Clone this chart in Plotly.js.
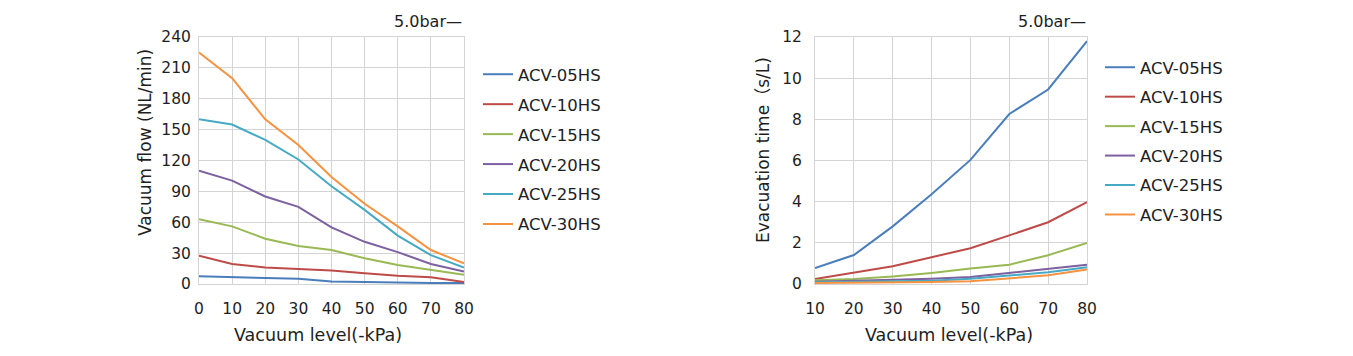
<!DOCTYPE html>
<html>
<head>
<meta charset="utf-8">
<script src="https://cdn.plot.ly/plotly-3.0.1.min.js"></script>
<style>
html,body{margin:0;padding:0;background:#fff;}
#chart{width:1353px;height:356px;}
</style>
</head>
<body>
<div id="chart"></div>
<script>
// ---- data ----
const models = ["ACV-05HS","ACV-10HS","ACV-15HS","ACV-20HS","ACV-25HS","ACV-30HS"];
const colors = ["#4A7EBB","#BE4B48","#98B954","#7D60A0","#46AAC5","#F69240"];

const flowVacuum = [0,10,20,30,40,50,60,70,80];
const flow05 = [7.5, 6.5, 6, 5, 2.5, 2, 1, 1, 1];
const flow10 = [27.5, 19.5, 16, 14.5, 13, 10.5, 8, 6.5, 2];
const flow15 = [63, 56, 44, 37, 33, 25, 18.5, 14, 9];
const flow20 = [110, 100.5, 85, 75, 55, 41, 31, 19.5, 12];
const flow25 = [160, 155, 140, 121, 95, 72, 47, 28, 16];
const flow30 = [225, 200, 160, 135, 104, 78, 56, 33, 20];

const timeVacuum = [10,20,30,40,50,60,70,80];
const time05 = [0.78, 1.41, 2.8, 4.36, 6.03, 8.26, 9.45, 11.8];
const time10 = [0.24, 0.56, 0.86, 1.3, 1.74, 2.36, 3.0, 3.98];
const time15 = [0.18, 0.24, 0.37, 0.54, 0.75, 0.94, 1.4, 2.0];
const time20 = [0.11, 0.16, 0.18, 0.26, 0.34, 0.54, 0.75, 0.94];
const time25 = [0.08, 0.11, 0.13, 0.16, 0.26, 0.4, 0.57, 0.81];
const time30 = [0.05, 0.06, 0.06, 0.1, 0.13, 0.29, 0.42, 0.7];

const flowTickVals = [0,30,60,90,120,150,180,210,240];
const timeTickVals = [0,2,4,6,8,10,12];

// ---- build ----
const FONT = "DejaVu Sans, Noto Sans CJK SC, sans-serif";
const TXT = "#1e1e1e";
const GRID = "#d4d4d4";
const flowSeries = [flow05, flow10, flow15, flow20, flow25, flow30];
const timeSeries = [time05, time10, time15, time20, time25, time30];

const traces = [];
models.forEach((m,i)=>{
  traces.push({x:flowVacuum, y:flowSeries[i], name:m, type:"scatter", mode:"lines",
    line:{color:colors[i], width:2}, xaxis:"x", yaxis:"y", legend:"legend",
    legendgroup:"a"+i, hoverinfo:"skip"});
});
models.forEach((m,i)=>{
  traces.push({x:timeVacuum, y:timeSeries[i], name:m, type:"scatter", mode:"lines",
    line:{color:colors[i], width:2}, xaxis:"x2", yaxis:"y2", legend:"legend2",
    legendgroup:"b"+i, hoverinfo:"skip"});
});

const W = 1353;
const TOP = 37, BOT = 284;
const py = p => (BOT - p) / (BOT - TOP);   // pixel row -> paper y
const px = p => p / W;                     // pixel col -> paper x

const axisCommon = {
  showgrid:true, gridcolor:GRID, gridwidth:1,
  showline:true, mirror:true, linecolor:GRID, linewidth:1,
  zeroline:false, ticks:"", fixedrange:true,
  tickfont:{family:FONT, size:15.5, color:TXT}
};
const legendCommon = {
  font:{family:FONT, size:16.5, color:TXT},
  bgcolor:"rgba(0,0,0,0)", borderwidth:0,
  xanchor:"left", yanchor:"top", itemwidth:30
};

const layout = {
  width:W, height:356,
  margin:{l:0, r:0, t:TOP, b:356-BOT},
  paper_bgcolor:"#fff", plot_bgcolor:"#fff",
  font:{family:FONT, color:TXT},
  xaxis:Object.assign({}, axisCommon, {domain:[px(199), px(464)], range:[0,80], tickmode:"array",
    tickvals:flowVacuum, ticklabelstandoff:10, anchor:"y"}),
  yaxis:Object.assign({}, axisCommon, {range:[0,240], tickmode:"array", tickvals:flowTickVals,
    ticklabelstandoff:4, anchor:"x"}),
  xaxis2:Object.assign({}, axisCommon, {domain:[px(815), px(1087)], range:[10,80], tickmode:"array",
    tickvals:timeVacuum, ticklabelstandoff:10, anchor:"y2"}),
  yaxis2:Object.assign({}, axisCommon, {range:[0,12], tickmode:"array", tickvals:timeTickVals,
    ticklabelstandoff:9, anchor:"x2"}),
  legend:Object.assign({}, legendCommon, {x:px(478), y:py(57), tracegroupgap:5.5}),
  legend2:Object.assign({}, legendCommon, {x:px(1100), y:py(50), tracegroupgap:5}),
  showlegend:true,
  annotations:[
    {text:"5.0bar—", xref:"paper", yref:"paper", x:px(464), y:py(22), xanchor:"right", yanchor:"middle",
     showarrow:false, font:{family:FONT, size:16, color:TXT}},
    {text:"5.0bar—", xref:"paper", yref:"paper", x:px(1088), y:py(22), xanchor:"right", yanchor:"middle",
     showarrow:false, font:{family:FONT, size:16, color:TXT}},
    {text:"Vacuum flow (NL/min)", xref:"paper", yref:"paper", x:px(145), y:py(143), textangle:-90,
     xanchor:"center", yanchor:"middle", showarrow:false, font:{family:FONT, size:17, color:TXT}},
    {text:"Evacuation time（s/L)", xref:"paper", yref:"paper", x:px(763), y:py(150), textangle:-90,
     xanchor:"center", yanchor:"middle", showarrow:false, font:{family:FONT, size:17, color:TXT}},
    {text:"Vacuum level(-kPa)", xref:"paper", yref:"paper", x:px(318), y:py(335),
     xanchor:"center", yanchor:"middle", showarrow:false, font:{family:FONT, size:17.5, color:TXT}},
    {text:"Vacuum level(-kPa)", xref:"paper", yref:"paper", x:px(949), y:py(335),
     xanchor:"center", yanchor:"middle", showarrow:false, font:{family:FONT, size:17.5, color:TXT}}
  ]
};

Plotly.newPlot("chart", traces, layout, {displayModeBar:false, staticPlot:true});
</script>
</body>
</html>
